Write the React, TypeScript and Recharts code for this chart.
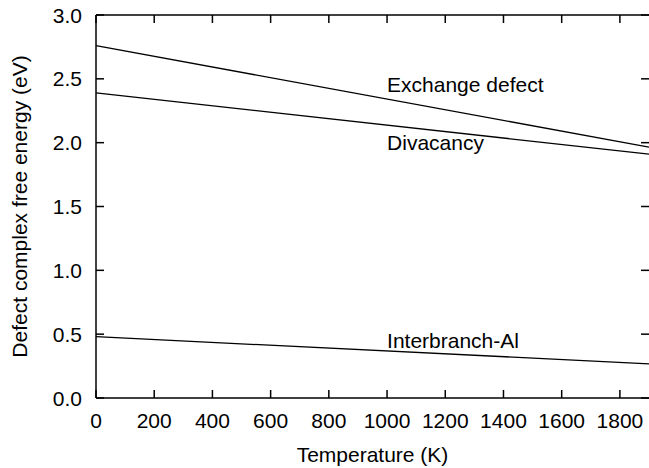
import { LineChart, Line, XAxis, YAxis, ReferenceDot, ReferenceLine } from 'recharts';

// Temperatures (K) at the two ends of each curve
const temperatures = [0, 1900];

// Free energies (eV)
const exchangeDefect = [2.76, 1.965];
const divacancy = [2.39, 1.91];
const interbranchAl = [0.48, 0.268];

const xTicks = [0, 200, 400, 600, 800, 1000, 1200, 1400, 1600, 1800];
const yTicks = [0, 0.5, 1.0, 1.5, 2.0, 2.5, 3.0];

// In-plot curve names and where they sit (data coordinates)
const curveNames = ['Exchange defect', 'Divacancy', 'Interbranch-Al'];
const curveNameT = [1000, 1000, 1000];
const curveNameE = [2.458, 2.0, 0.453];

const data = temperatures.map((t, i) => ({
  t,
  exchange: exchangeDefect[i],
  divacancy: divacancy[i],
  interbranch: interbranchAl[i],
}));

const X_MAX = 1900;
const Y_MAX = 3;
const W = 649;
const H = 468;
const M_TOP = 15;
const Y_AXIS_W = 96;
const X_AXIS_H = 70;
const PLOT_W = W - Y_AXIS_W;
const PLOT_H = H - M_TOP - X_AXIS_H;

// inward tick length (8px) expressed in data units
const TICK_PX = 8;
const tickT = (TICK_PX * X_MAX) / PLOT_W;
const tickE = (TICK_PX * Y_MAX) / PLOT_H;

const FONT = '"Liberation Sans", Arial, Helvetica, sans-serif';
const FS = 21;
const axisStroke = { stroke: '#000', strokeWidth: 1.5 };

function BottomTick(props: any) {
  const { x, y, payload } = props;
  return (
    <text x={x} y={Number(y) + 30} textAnchor="middle" fill="#000" fontSize={FS} fontFamily={FONT}>
      {payload.value}
    </text>
  );
}

function LeftTick(props: any) {
  const { x, y, payload } = props;
  return (
    <text
      x={Number(x) - 14}
      y={y}
      textAnchor="end"
      dominantBaseline="central"
      fill="#000"
      fontSize={FS}
      fontFamily={FONT}
    >
      {Number(payload.value).toFixed(1)}
    </text>
  );
}

function YTitle(props: any) {
  const vb = props.viewBox || {};
  const x = (vb.x ?? 0) + 19;
  const y = (vb.y ?? 0) + (vb.height ?? 0) / 2;
  return (
    <text
      x={x}
      y={y}
      transform={`rotate(-90 ${x} ${y})`}
      textAnchor="middle"
      dominantBaseline="central"
      fill="#000"
      fontSize={FS}
      fontFamily={FONT}
    >
      Defect complex free energy (eV)
    </text>
  );
}

export default function App() {
  return (
    <div style={{ position: 'absolute', left: 0, top: 0, fontFamily: FONT, background: '#fff' }}>
      <LineChart
        width={W}
        height={H}
        data={data}
        margin={{ top: M_TOP, right: 0, bottom: 0, left: 0 }}
      >
        <XAxis
          dataKey="t"
          type="number"
          domain={[0, X_MAX]}
          ticks={xTicks}
          interval={0}
          height={X_AXIS_H}
          tickSize={0}
          tickMargin={0}
          axisLine={axisStroke}
          tickLine={false}
          tick={<BottomTick />}
          label={{
            value: 'Temperature (K)',
            position: 'insideBottom',
            offset: 6,
            fill: '#000',
            fontSize: FS,
            fontFamily: FONT,
          }}
        />
        <YAxis
          type="number"
          domain={[0, Y_MAX]}
          ticks={yTicks}
          interval={0}
          width={Y_AXIS_W}
          tickSize={0}
          tickMargin={0}
          axisLine={axisStroke}
          tickLine={false}
          tick={<LeftTick />}
          label={<YTitle />}
        />
        {/* top frame line */}
        <ReferenceLine y={Y_MAX} stroke="#000" strokeWidth={1.5} ifOverflow="visible" />
        {/* inward ticks on all four sides */}
        {xTicks.map((t) => (
          <ReferenceLine
            key={`b${t}`}
            segment={[{ x: t, y: 0 }, { x: t, y: tickE }]}
            stroke="#000"
            strokeWidth={1.5}
            ifOverflow="visible"
          />
        ))}
        {xTicks.map((t) => (
          <ReferenceLine
            key={`t${t}`}
            segment={[{ x: t, y: Y_MAX - tickE }, { x: t, y: Y_MAX }]}
            stroke="#000"
            strokeWidth={1.5}
            ifOverflow="visible"
          />
        ))}
        {yTicks.map((v) => (
          <ReferenceLine
            key={`l${v}`}
            segment={[{ x: 0, y: v }, { x: tickT, y: v }]}
            stroke="#000"
            strokeWidth={1.5}
            ifOverflow="visible"
          />
        ))}
        {yTicks.map((v) => (
          <ReferenceLine
            key={`r${v}`}
            segment={[{ x: X_MAX - tickT, y: v }, { x: X_MAX, y: v }]}
            stroke="#000"
            strokeWidth={1.5}
            ifOverflow="visible"
          />
        ))}
        <Line
          dataKey="exchange"
          stroke="#000"
          strokeWidth={1.3}
          dot={false}
          isAnimationActive={false}
        />
        <Line
          dataKey="divacancy"
          stroke="#000"
          strokeWidth={1.3}
          dot={false}
          isAnimationActive={false}
        />
        <Line
          dataKey="interbranch"
          stroke="#000"
          strokeWidth={1.3}
          dot={false}
          isAnimationActive={false}
        />
        {curveNames.map((name, i) => (
          <ReferenceDot
            key={name}
            x={curveNameT[i]}
            y={curveNameE[i]}
            r={0}
            fill="none"
            stroke="none"
            label={{
              value: name,
              position: 'right',
              offset: 0,
              fill: '#000',
              fontSize: FS,
              fontFamily: FONT,
            }}
          />
        ))}
      </LineChart>
    </div>
  );
}
